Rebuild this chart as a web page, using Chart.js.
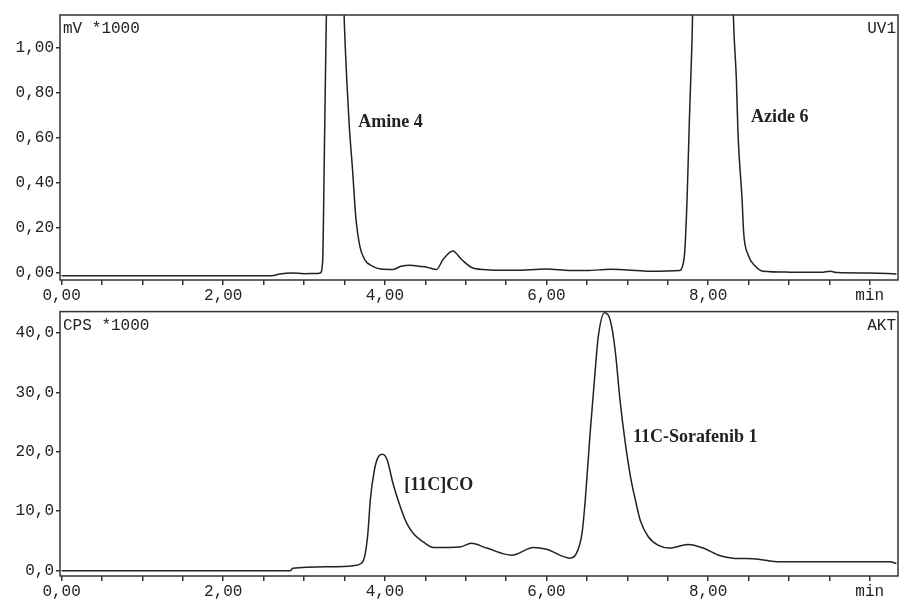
<!DOCTYPE html>
<html>
<head>
<meta charset="utf-8">
<script src="https://cdn.jsdelivr.net/npm/chart.js@4/dist/chart.umd.min.js"></script>
<style>
  body { margin: 0; background: #fff; }
  #wrap { position: relative; width: 901px; height: 599px; overflow: hidden; }
  canvas { position: absolute; left: 0; }
</style>
</head>
<body>
<div id="wrap">
  <canvas id="uvChart" width="901" height="305" style="top:0"></canvas>
  <canvas id="radChart" width="901" height="299" style="top:300px"></canvas>
</div>
<script>
// UV trace (mV *1000) - peaks above the frame are cut off like in the original
const uvTime = [0, 2.6, 2.7, 2.85, 3.0, 3.15, 3.20, 3.23, 3.25, 3.27, 3.30, 3.38, 3.46, 3.50, 3.53, 3.56, 3.60, 3.64, 3.69, 3.75, 3.85, 3.95, 4.10, 4.20, 4.31, 4.42, 4.52, 4.64, 4.72, 4.84, 4.95, 5.09, 5.30, 5.60, 6.00, 6.30, 6.50, 6.79, 7.00, 7.28, 7.65, 7.69, 7.71, 7.74, 7.77, 7.80, 7.83, 8.05, 8.28, 8.32, 8.35, 8.37, 8.42, 8.44, 8.50, 8.58, 8.68, 9.00, 9.40, 9.51, 9.60, 10.00, 10.33];
const uvSignal = [-0.012, -0.012, -0.004, 0.0, -0.003, -0.002, 0.0, 0.05, 0.5, 1.0, 1.6, 1.9, 1.6, 1.1, 0.85, 0.65, 0.46, 0.25, 0.12, 0.06, 0.03, 0.018, 0.016, 0.03, 0.035, 0.03, 0.026, 0.016, 0.06, 0.098, 0.06, 0.022, 0.014, 0.012, 0.018, 0.011, 0.011, 0.017, 0.014, 0.008, 0.011, 0.04, 0.09, 0.33, 0.70, 1.02, 1.5, 1.9, 1.5, 1.07, 0.86, 0.62, 0.33, 0.18, 0.077, 0.032, 0.008, 0.004, 0.003, 0.008, 0.002, 0.0, -0.004];

// radio trace (CPS *1000)
const radTime = [0, 2.83, 2.86, 3.32, 3.61, 3.71, 3.75, 3.79, 3.82, 3.87, 3.92, 3.97, 4.03, 4.10, 4.19, 4.27, 4.35, 4.50, 4.60, 4.93, 5.07, 5.26, 5.57, 5.84, 6.00, 6.29, 6.37, 6.44, 6.48, 6.54, 6.60, 6.64, 6.72, 6.79, 6.85, 6.91, 6.97, 7.04, 7.10, 7.16, 7.26, 7.38, 7.53, 7.75, 7.94, 8.15, 8.31, 8.56, 8.89, 10.25, 10.33];
const radSignal = [0, 0, 0.4, 0.67, 0.84, 1.24, 2.35, 6.3, 11.9, 16.9, 19.2, 19.6, 18.6, 14.7, 10.8, 8.0, 6.3, 4.6, 3.9, 4.0, 4.6, 3.8, 2.6, 3.9, 3.6, 2.1, 2.9, 6.3, 11.9, 23.1, 33.2, 39.3, 43.4, 42.1, 37.1, 28.7, 22.0, 15.8, 11.9, 8.5, 5.7, 4.3, 3.8, 4.4, 3.8, 2.5, 2.1, 2.0, 1.5, 1.5, 1.2];

const xTicks = [0, 0.5, 1, 1.5, 2, 2.5, 3, 3.5, 4, 4.5, 5, 5.5, 6, 6.5, 7, 7.5, 8, 8.5, 9, 9.5, 10];
const xTickLabels = { 0: '0,00', 2: '2,00', 4: '4,00', 6: '6,00', 8: '8,00', 10: 'min' };
const uvYTicks = [0, 0.2, 0.4, 0.6, 0.8, 1.0];
const radYTicks = [0, 10, 20, 30, 40];

const uvPeaks = [
  { text: 'Amine 4', x: 3.67, y: 0.67 },
  { text: 'Azide 6', x: 8.53, y: 0.69 },
];
const radPeaks = [
  { text: '[11C]CO', x: 4.24, y: 14.4 },
  { text: '11C-Sorafenib 1', x: 7.07, y: 22.5 },
];

const ink = '#222';
const monoFont = { family: '"Liberation Mono", "Courier New", monospace', size: 16 };

// frame, corner captions and peak names
const framePlugin = {
  id: 'frame',
  afterDraw(chart, args, opts) {
    const { ctx, chartArea: a, scales } = chart;
    ctx.save();
    ctx.strokeStyle = '#333';
    ctx.lineWidth = 1.5;
    ctx.strokeRect(a.left, a.top, a.right - a.left, a.bottom - a.top);

    ctx.fillStyle = ink;
    ctx.font = '16px "Liberation Mono", monospace';
    ctx.textBaseline = 'middle';
    ctx.textAlign = 'left';
    ctx.fillText(opts.unit, a.left + 3, a.top + 14);
    ctx.textAlign = 'right';
    ctx.fillText(opts.channel, a.right - 2, a.top + 14);

    ctx.font = 'bold 18px "Liberation Serif", "Times New Roman", serif';
    ctx.textAlign = 'left';
    opts.peaks.forEach(p => {
      ctx.fillText(p.text, scales.x.getPixelForValue(p.x), scales.y.getPixelForValue(p.y));
    });
    ctx.restore();
  }
};

function makeChart(id, times, values, yTicks, yMin, yMax, yDecimals, topPad, xHeight, unit, channel, peaks) {
  const ctx = document.getElementById(id).getContext('2d');
  return new Chart(ctx, {
    type: 'line',
    data: {
      datasets: [{
        data: times.map((t, i) => ({ x: t, y: values[i] })),
        borderColor: ink,
        borderWidth: 1.5,
        pointRadius: 0,
        cubicInterpolationMode: 'monotone',
        fill: false,
      }]
    },
    options: {
      responsive: false,
      animation: false,
      devicePixelRatio: 1,
      layout: { padding: { top: topPad, right: 3, left: 0, bottom: 0 } },
      plugins: {
        legend: { display: false },
        tooltip: { enabled: false },
        frame: { unit: unit, channel: channel, peaks: peaks },
      },
      scales: {
        x: {
          type: 'linear',
          min: -0.02,
          max: 10.35,
          afterBuildTicks: s => { s.ticks = xTicks.map(v => ({ value: v })); },
          afterFit: s => { s.height = xHeight; },
          grid: { drawOnChartArea: false, tickLength: 5, tickColor: '#333', lineWidth: 1.5 },
          border: { display: false },
          ticks: {
            autoSkip: false,
            maxRotation: 0,
            padding: 1,
            color: ink,
            font: monoFont,
            callback: v => xTickLabels[v] || '',
          },
        },
        y: {
          min: yMin,
          max: yMax,
          afterBuildTicks: s => { s.ticks = yTicks.map(v => ({ value: v })); },
          afterFit: s => { s.width = 60; },
          grid: { drawOnChartArea: false, tickLength: 4, tickColor: '#333', lineWidth: 1.5 },
          border: { display: false },
          ticks: {
            padding: 2,
            color: ink,
            font: monoFont,
            callback: v => v.toFixed(yDecimals).replace('.', ','),
          },
        },
      },
    },
    plugins: [framePlugin],
  });
}

makeChart('uvChart', uvTime, uvSignal, uvYTicks, -0.031, 1.147, 2, 15, 25, 'mV *1000', 'UV1', uvPeaks);
makeChart('radChart', radTime, radSignal, radYTicks, -0.9, 43.6, 1, 11, 23, 'CPS *1000', 'AKT', radPeaks);
</script>
</body>
</html>
